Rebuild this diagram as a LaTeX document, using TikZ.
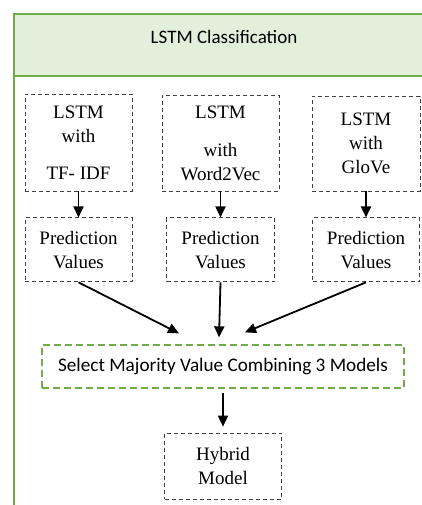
\documentclass[tikz,border=0pt]{standalone}
\usepackage{fontspec}
\setmainfont{Liberation Serif}
\newfontfamily\calibri{Carlito}
\usetikzlibrary{positioning,arrows.meta}
\definecolor{leafgreen}{HTML}{70AD47}
\definecolor{headfill}{HTML}{E2EFDA}
\definecolor{dashgray}{HTML}{404040}
\tikzset{
    >={Triangle[length=11pt,width=10pt]},
    frame/.style = {draw=leafgreen, line width=2pt},
    model/.style = {draw=dashgray, dash pattern=on 4pt off 3pt, line width=0.9pt,
                    align=center, inner sep=0pt,
                    font=\fontsize{19}{24}\selectfont},
    vote/.style = {draw=leafgreen, dash pattern=on 7pt off 4pt, line width=1.3pt,
                   inner sep=0pt, font=\calibri\fontsize{19.2}{22}\selectfont},
    arr/.style = {->, line width=1.8pt},
}

\begin{document}
\begin{tikzpicture}[x=1pt, y=-1pt]
    \useasboundingbox (0,0) rectangle (422,505);

    % header band and frame
    \fill[headfill] (14,14) rectangle (422,76);
    \draw[frame] (422,14) -- (14,14) -- (14,505);
    \draw[frame] (14,76) -- (422,76);
    \node (title) [anchor=base, font=\calibri\fontsize{19}{22}\selectfont]
        at (224,44) {LSTM Classification};

    % the three models
    \node (m1) [model, minimum width=107pt, minimum height=97pt] at (78.5,142.5)
        {LSTM\\with\\[13pt]TF- IDF};
    \node (m2) [model, minimum width=117pt, minimum height=96pt] at (220.5,143)
        {LSTM\\[14pt]with\\Word2Vec};
    \node (m3) [model, minimum width=108pt, minimum height=95pt] at (366,143.5)
        {LSTM\\with\\GloVe};

    \node (p1) [model, minimum width=107pt, minimum height=64pt, below=26pt of m1]
        {Prediction\\Values};
    \node (p2) [model, minimum width=108pt, minimum height=64pt, below=26pt of m2]
        {Prediction\\Values};
    \node (p3) [model, minimum width=107pt, minimum height=64pt, below=26pt of m3]
        {Prediction\\Values};

    \foreach \i in {1,2,3}
        \draw[arr] (m\i) -- (p\i);

    % majority vote
    \node (vote) [vote, minimum width=362pt, minimum height=43pt] at (223,366.5)
        {Select Majority Value Combining 3 Models};

    \coordinate (in1) at ([xshift=-44pt,yshift=11pt]vote.north);
    \coordinate (in2) at ([xshift=-4pt,yshift=7pt]vote.north);
    \coordinate (in3) at ([xshift=22pt,yshift=12pt]vote.north);
    \draw[arr] (p1.south) -- (in1);
    \draw[arr] (p2.south) -- (in2);
    \draw[arr] (p3.south) -- (in3);

    \node (hybrid) [model, minimum width=117pt, minimum height=66pt, below=44pt of vote]
        {Hybrid\\Model};
    \draw[arr, shorten <=4pt, shorten >=6pt] (vote.south -| hybrid.north) -- (hybrid.north);
\end{tikzpicture}
\end{document}
